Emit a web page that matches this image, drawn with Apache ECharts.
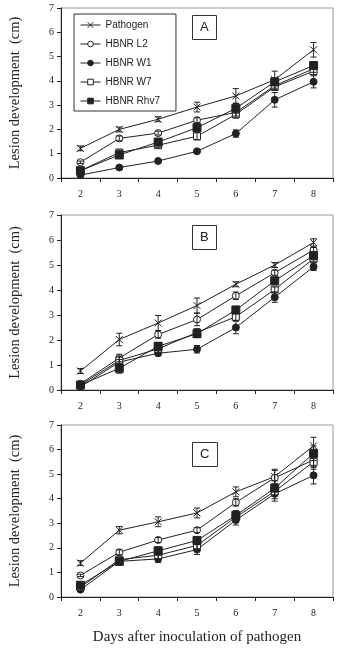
<!DOCTYPE html>
<html>
<head>
<meta charset="utf-8">
<script src="https://cdn.jsdelivr.net/npm/echarts@6/dist/echarts.min.js"></script>
<style>
  html, body { margin: 0; padding: 0; background: #fff; }
  #chart { width: 350px; height: 652px; }
</style>
</head>
<body>
<div id="chart"></div>
<script>
let days = ['2', '3', '4', '5', '6', '7', '8'];
let names = ['Pathogen', 'HBNR L2', 'HBNR W1', 'HBNR W7', 'HBNR Rhv7'];
let yTicks = [0, 7, 1]; // min, max, step

// panel A
let pathogenA = [1.22, 2.0, 2.42, 2.92, 3.38, 4.05, 5.28];
let l2A = [0.65, 1.63, 1.85, 2.38, 2.7, 3.8, 4.5];
let w1A = [0.12, 0.43, 0.7, 1.1, 1.83, 3.22, 3.96];
let w7A = [0.3, 1.05, 1.35, 1.72, 2.62, 3.75, 4.4];
let rhv7A = [0.3, 0.95, 1.48, 2.07, 2.87, 3.96, 4.63];
let pathogenAErr = [0.1, 0.1, 0.1, 0.2, 0.3, 0.35, 0.3];
let l2AErr = [0.05, 0.1, 0.08, 0.1, 0.15, 0.15, 0.15];
let w1AErr = [0.05, 0.08, 0.05, 0.05, 0.15, 0.3, 0.25];
let w7AErr = [0.05, 0.1, 0.1, 0.15, 0.15, 0.15, 0.15];
let rhv7AErr = [0.05, 0.15, 0.15, 0.1, 0.2, 0.15, 0.15];

// panel B
let pathogenB = [0.76, 2.02, 2.68, 3.38, 4.23, 5.0, 5.9];
let l2B = [0.25, 1.28, 2.22, 2.82, 3.77, 4.69, 5.6];
let w1B = [0.12, 1.12, 1.47, 1.63, 2.5, 3.71, 4.93];
let w7B = [0.2, 1.18, 1.65, 2.3, 2.93, 4.02, 5.25];
let rhv7B = [0.2, 0.87, 1.75, 2.25, 3.2, 4.37, 5.38];
let pathogenBErr = [0.1, 0.25, 0.3, 0.3, 0.1, 0.1, 0.15];
let l2BErr = [0.05, 0.15, 0.15, 0.25, 0.15, 0.1, 0.1];
let w1BErr = [0.05, 0.1, 0.1, 0.15, 0.25, 0.2, 0.15];
let w7BErr = [0.05, 0.15, 0.15, 0.15, 0.15, 0.1, 0.1];
let rhv7BErr = [0.05, 0.2, 0.15, 0.15, 0.15, 0.1, 0.1];

// panel C
let pathogenC = [1.38, 2.72, 3.06, 3.42, 4.28, 4.9, 6.15];
let l2C = [0.88, 1.82, 2.32, 2.72, 3.85, 4.85, 5.58];
let w1C = [0.3, 1.45, 1.55, 1.93, 3.13, 4.2, 4.95];
let w7C = [0.4, 1.52, 1.7, 2.1, 3.25, 4.3, 5.5];
let rhv7C = [0.48, 1.45, 1.88, 2.3, 3.32, 4.43, 5.85];
let pathogenCErr = [0.1, 0.15, 0.2, 0.2, 0.2, 0.3, 0.35];
let l2CErr = [0.05, 0.1, 0.1, 0.1, 0.15, 0.3, 0.3];
let w1CErr = [0.05, 0.1, 0.15, 0.2, 0.2, 0.3, 0.35];
let w7CErr = [0.05, 0.1, 0.15, 0.15, 0.2, 0.3, 0.3];
let rhv7CErr = [0.05, 0.1, 0.15, 0.15, 0.2, 0.3, 0.3];

let panels = [
  { label: 'A', vals: [pathogenA, l2A, w1A, w7A, rhv7A], errs: [pathogenAErr, l2AErr, w1AErr, w7AErr, rhv7AErr] },
  { label: 'B', vals: [pathogenB, l2B, w1B, w7B, rhv7B], errs: [pathogenBErr, l2BErr, w1BErr, w7BErr, rhv7BErr] },
  { label: 'C', vals: [pathogenC, l2C, w1C, w7C, rhv7C], errs: [pathogenCErr, l2CErr, w1CErr, w7CErr, rhv7CErr] }
];

// layout
let grids = [
  { left: 61, right: 17, top: 8, height: 170 },
  { left: 61, right: 17, top: 215, height: 175 },
  { left: 61, right: 17, top: 425, height: 172 }
];
let boxTops = [15, 225, 442];

let crossPath = 'path://M0,0L10,10M10,0L0,10';
let markers = [
  { symbol: crossPath, size: 7, fill: '#222' },
  { symbol: 'circle', size: 7, fill: '#fff' },
  { symbol: 'circle', size: 7, fill: '#222' },
  { symbol: 'rect', size: 7, fill: '#fff' },
  { symbol: 'rect', size: 8, fill: '#222' }
];

let serif = '"Liberation Serif", "DejaVu Serif", serif';
let sans = '"Liberation Sans", Arial, sans-serif';

function renderErr(params, api) {
  let x = api.value(0), y = api.value(1), e = api.value(2);
  let top = api.coord([x, y + e]);
  let bot = api.coord([x, y - e]);
  let w = 3;
  let st = { stroke: '#222', lineWidth: 1 };
  return {
    type: 'group',
    children: [
      { type: 'line', shape: { x1: top[0], y1: top[1], x2: bot[0], y2: bot[1] }, style: st },
      { type: 'line', shape: { x1: top[0] - w, y1: top[1], x2: top[0] + w, y2: top[1] }, style: st },
      { type: 'line', shape: { x1: bot[0] - w, y1: bot[1], x2: bot[0] + w, y2: bot[1] }, style: st }
    ]
  };
}

let xAxes = [], yAxes = [], series = [], titles = [];
panels.forEach(function (p, gi) {
  xAxes.push({
    type: 'category',
    gridIndex: gi,
    data: days,
    boundaryGap: true,
    axisLine: { lineStyle: { color: '#222', width: 1 } },
    axisTick: { show: true, length: 4, lineStyle: { color: '#222' } },
    axisLabel: { fontFamily: serif, fontSize: 10, color: '#222', margin: 11 },
    splitLine: { show: false },
    name: gi === 2 ? 'Days after inoculation of pathogen' : '',
    nameLocation: 'middle',
    nameGap: 33,
    nameTextStyle: { fontFamily: serif, fontSize: 15, color: '#222' }
  });
  yAxes.push({
    type: 'value',
    gridIndex: gi,
    min: yTicks[0],
    max: yTicks[1],
    interval: yTicks[2],
    axisLine: { show: true, lineStyle: { color: '#222', width: 1 } },
    axisTick: { show: true, length: 4, lineStyle: { color: '#222' } },
    axisLabel: { fontFamily: serif, fontSize: 10, color: '#222', margin: 7 },
    splitLine: { show: false },
    name: 'Lesion development  (cm)',
    nameLocation: 'middle',
    nameGap: 38,
    nameTextStyle: { fontFamily: serif, fontSize: 14.5, color: '#222' }
  });
  titles.push({
    text: p.label,
    left: 192,
    top: boxTops[gi],
    borderColor: '#333',
    borderWidth: 1,
    padding: [6, 8, 6, 8],
    textStyle: { fontFamily: sans, fontSize: 13, fontWeight: 'normal', color: '#222' }
  });
  p.vals.forEach(function (vals, si) {
    let m = markers[si];
    series.push({
      name: names[si],
      type: 'line',
      xAxisIndex: gi,
      yAxisIndex: gi,
      data: vals,
      symbol: m.symbol,
      symbolSize: m.size,
      showAllSymbol: true,
      lineStyle: { color: '#222', width: 1 },
      itemStyle: { color: m.fill, borderColor: '#222', borderWidth: 1 },
      emphasis: { disabled: true },
      z: 3
    });
    series.push({
      name: names[si] + ' err',
      type: 'custom',
      xAxisIndex: gi,
      yAxisIndex: gi,
      renderItem: renderErr,
      data: vals.map(function (v, i) { return [i, v, p.errs[si][i]]; }),
      z: 4,
      silent: true
    });
  });
});

let myChart = echarts.init(document.getElementById('chart'));
myChart.setOption({
  backgroundColor: '#fff',
  animation: false,
  title: titles,
  legend: {
    data: names,
    orient: 'vertical',
    left: 74,
    top: 14,
    itemWidth: 20,
    itemHeight: 7,
    itemGap: 9,
    padding: [6, 16, 5, 6],
    borderColor: '#333',
    borderWidth: 1,
    lineStyle: { width: 1 },
    itemStyle: { borderWidth: 1 },
    textStyle: { fontFamily: sans, fontSize: 10, color: '#222' },
    selectedMode: false
  },
  grid: grids.map(function (g) {
    return { left: g.left, right: g.right, top: g.top, height: g.height, show: true, borderColor: '#999', borderWidth: 1 };
  }),
  xAxis: xAxes,
  yAxis: yAxes,
  series: series
});
</script>
</body>
</html>
